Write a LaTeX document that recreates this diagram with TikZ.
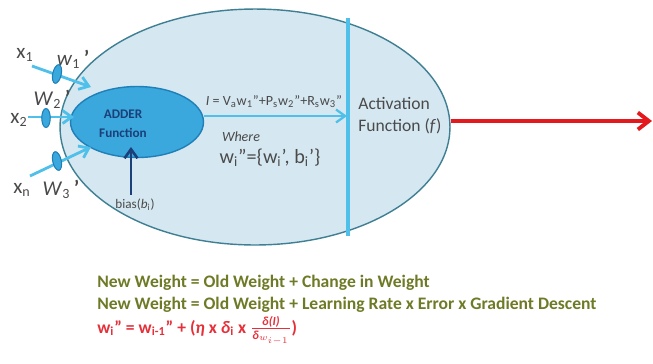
\documentclass[tikz,border=0pt]{standalone}
\usepackage{fontspec}
\setmainfont{Carlito}
\usepackage{amsmath}
\usetikzlibrary{arrows.meta,positioning,shapes.geometric}
\definecolor{cellfill}{HTML}{D5E7F0}
\definecolor{celledge}{HTML}{3F7F93}
\definecolor{adderfill}{HTML}{3AA8DD}
\definecolor{adderedge}{HTML}{1F80B8}
\definecolor{skyline}{HTML}{4EC0EA}
\definecolor{navy}{HTML}{1B3F78}
\definecolor{inkgray}{HTML}{4A4A4A}
\definecolor{olive}{HTML}{6F7A26}
\definecolor{rulered}{HTML}{E5303A}
\definecolor{outred}{HTML}{E3191E}
\tikzset{
  cell/.style={ellipse,draw=celledge,fill=cellfill,line width=0.8pt,
               minimum width=7.8cm,minimum height=4.72cm,inner sep=0pt},
  adderbox/.style={ellipse,draw=adderedge,fill=adderfill,line width=0.8pt,
                   minimum width=2.66cm,minimum height=1.42cm,inner sep=0pt},
  wgt/.style={ellipse,draw=adderedge,fill=adderfill,line width=0.6pt,
              minimum width=0.17cm,minimum height=0.38cm,inner sep=0pt},
  inarr/.style={-{Straight Barb[length=1.8mm,width=2.6mm]},line width=1.6pt,
                draw=skyline},
  outarr/.style={-{Straight Barb[length=2.2mm,width=3.4mm]},line width=2.2pt,
                 draw=outred},
  biasarr/.style={-{Straight Barb[length=1.8mm,width=2.6mm]},line width=1.5pt,
                  draw=navy},
  lbl/.style={font=\fontsize{12}{14}\selectfont,text=inkgray,inner sep=0pt},
  small/.style={font=\fontsize{7.5}{9}\selectfont,text=inkgray,inner sep=0pt},
  rule/.style={font=\fontsize{10}{12}\selectfont\bfseries,text=olive,
               anchor=west,inner sep=0pt}
}

\begin{document}
\begin{tikzpicture}[x=0.02cm,y=-0.02cm]
    \useasboundingbox (0,0) rectangle (653,363);

    % neuron body
    \node[cell] (body) at (255,127) {};
    \coordinate (bartop) at (348,18);
    \coordinate (barbot) at (348,236);
    \draw[skyline,line width=2pt] (bartop) -- (barbot);

    \node[adderbox] (adder) at (137,122) {};
    \node[font=\fontsize{7.5}{9}\selectfont\bfseries,text=navy,align=center,
          inner sep=0pt] (addtxt) at (123,124) {ADDER\\[2pt]Function};

    % inputs and weights
    \node[lbl] (x1) at (25,55) {x\textsubscript{1}};
    \node[lbl] (x2) at (19,120) {x\textsubscript{2}};
    \node[lbl] (xn) at (22,190) {x\textsubscript{n}};
    \coordinate (s1) at (32,66);
    \coordinate (e1) at (91,87);
    \coordinate (s2) at (28,117);
    \coordinate (e2) at (74,117);
    \coordinate (s3) at (30,176);
    \coordinate (e3) at (91,147);
    \draw[inarr] (s1) -- (e1);
    \draw[inarr] (s2) -- (e2);
    \draw[inarr] (s3) -- (e3);
    \node[wgt,rotate=-12] (w1) at (57,74) {};
    \node[wgt] (w2) at (46,118) {};
    \node[wgt,rotate=12] (w3) at (57,161) {};
    \node[lbl] (w1l) at (73,59) {\textit{w}\textsubscript{1}\textbf{\,'}};
    \node[lbl] (w2l) at (52,99) {\textit{W}\textsubscript{2}\textbf{\,'}};
    \node[lbl] (w3l) at (61,189) {\textit{W}\textsubscript{3}\textbf{\,'}};

    % bias
    \node[small] (bias) at (135,205) {bias(\textit{b}\textsubscript{i})};
    \coordinate (biasin) at (131,147);
    \draw[biasarr] (bias.north -| biasin) ++(0,-4) -- (biasin);

    % adder output
    \coordinate (sumin) at (347,116);
    \draw[inarr,line width=1.3pt] (adder.east |- sumin) -- (sumin);
    \node[small,font=\fontsize{8}{9.5}\selectfont] (sumeq) at (274,102)
      {\textit{I} = V\textsubscript{a}w\textsubscript{1}''+P\textsubscript{s}w\textsubscript{2}''+R\textsubscript{s}w\textsubscript{3}''};
    \node[small,font=\fontsize{8}{9.5}\selectfont\itshape] (where) at (241,137) {Where};
    \node[lbl,font=\fontsize{11.5}{13}\selectfont] (wdef) at (270,158)
      {w\textsubscript{i}''=\{w\textsubscript{i}', b\textsubscript{i}'\}};

    % activation
    \node[lbl,align=left,anchor=west,font=\fontsize{10}{12.5}\selectfont]
      (act) at (358,116) {Activation\\Function (\textit{f})};
    \coordinate (outend) at (652,121);
    \draw[outarr] (body.east |- outend) -- (outend);

    % update rule
    \node[rule] (rule1) at (97,283) {New Weight = Old Weight + Change in Weight};
    \node[rule] (rule2) at (97,305)
      {New Weight = Old Weight + Learning Rate x Error x Gradient Descent};
    \node[rule,text=rulered] (rule3) at (97,331)
      {w\textsubscript{i}'' = w\textsubscript{i-1}'' + (\textit{η} x \textit{δ}\textsubscript{i} x
       \(\frac{\textit{δ(I)}}{\textit{δ}_{w_{i-1}}}\))};
  \end{tikzpicture}
\end{document}
